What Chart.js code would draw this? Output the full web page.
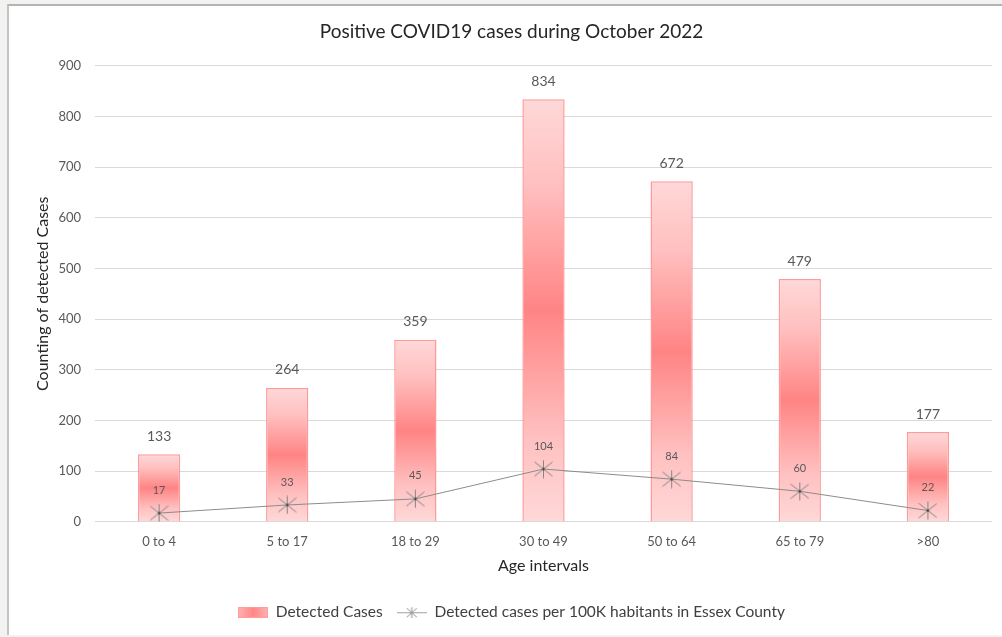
<!DOCTYPE html>
<html>
<head>
<meta charset="utf-8">
<script src="https://cdn.jsdelivr.net/npm/chart.js@4"></script>
<style>
  html, body { margin: 0; padding: 0; background: #f2f2f0; width: 1002px; height: 637px; overflow: hidden; }
  #card { position: absolute; left: 7px; top: 4px; right: 0; bottom: 2px; background: #ffffff;
          border-top: 2px solid #b4b4b4; border-left: 2px solid #c4c4c4; }
  #c { position: absolute; left: 0; top: 0; }
</style>
</head>
<body>
<div id="card"></div>
<canvas id="c" width="1002" height="637"></canvas>
<script>
const categories = ["0 to 4", "5 to 17", "18 to 29", "30 to 49", "50 to 64", "65 to 79", ">80"];
const detectedCases = [133, 264, 359, 834, 672, 479, 177];
const casesPer100K = [17, 33, 45, 104, 84, 60, 22];
const yTicks = [0, 100, 200, 300, 400, 500, 600, 700, 800, 900];
const titleText = "Positive COVID19 cases during October 2022";
const yTitle = "Counting of detected Cases";
const xTitle = "Age intervals";
const seriesNames = ["Detected Cases", "Detected cases per 100K habitants in Essex County"];

const FONT = "Lato";
const TXT = "#595959";

function makeStar(w, h) {
  const c = document.createElement('canvas');
  c.width = w; c.height = h;
  const g = c.getContext('2d');
  const cx = w / 2, cy = h / 2;
  g.strokeStyle = '#858585';
  g.lineWidth = 1;
  g.beginPath();
  g.moveTo(cx, cy - h / 2 + 0.5); g.lineTo(cx, cy + h / 2 - 0.5);
  g.moveTo(cx - w / 2 + 0.5, cy - h / 2 * 0.75); g.lineTo(cx + w / 2 - 0.5, cy + h / 2 * 0.75);
  g.moveTo(cx - w / 2 + 0.5, cy + h / 2 * 0.75); g.lineTo(cx + w / 2 - 0.5, cy - h / 2 * 0.75);
  g.stroke();
  g.fillStyle = '#333';
  g.fillRect(cx - 1, cy - 1, 2, 2);
  return c;
}
const starImg = makeStar(19, 19);

function makeLegendLine() {
  const c = document.createElement('canvas');
  c.width = 30; c.height = 12;
  const g = c.getContext('2d');
  g.strokeStyle = '#a0a0a0'; g.lineWidth = 1;
  g.beginPath(); g.moveTo(0, 6.5); g.lineTo(30, 6.5); g.stroke();
  g.strokeStyle = '#909090';
  g.beginPath();
  g.moveTo(15, 1); g.lineTo(15, 12);
  g.moveTo(10, 2); g.lineTo(20, 11);
  g.moveTo(10, 11); g.lineTo(20, 2);
  g.stroke();
  return c;
}
function makeLegendBox() {
  const c = document.createElement('canvas');
  c.width = 30; c.height = 11;
  const g = c.getContext('2d');
  const gr = g.createLinearGradient(0, 0, 30, 0);
  gr.addColorStop(0, '#ffb3b3'); gr.addColorStop(0.5, '#ff8787'); gr.addColorStop(1, '#ffb3b3');
  g.fillStyle = gr; g.fillRect(0, 0, 30, 11);
  g.strokeStyle = '#ff9c9c'; g.lineWidth = 1; g.strokeRect(0.5, 0.5, 29, 10);
  return c;
}

function barGradient(context) {
  const chart = context.chart;
  const ys = chart.scales.y;
  if (!ys || context.dataIndex == null) return '#ff9999';
  const v = detectedCases[context.dataIndex];
  const top = ys.getPixelForValue(v);
  const bot = ys.getPixelForValue(0);
  if (!isFinite(top) || !isFinite(bot) || top === bot) return '#ff9999';
  const gr = chart.ctx.createLinearGradient(0, top, 0, bot);
  gr.addColorStop(0, '#ffd8d8');
  gr.addColorStop(0.2, '#ffc0c0');
  gr.addColorStop(0.5, '#ff8484');
  gr.addColorStop(0.8, '#ffc0c0');
  gr.addColorStop(1, '#ffd8d8');
  return gr;
}

const labelPlugin = {
  id: 'valueLabels',
  afterDatasetsDraw(chart) {
    const ctx = chart.ctx;
    ctx.save();
    ctx.fillStyle = TXT;
    ctx.textAlign = 'center';
    ctx.textBaseline = 'middle';
    ctx.font = `14px ${FONT}`;
    chart.getDatasetMeta(1).data.forEach((el, i) => {
      ctx.fillText(String(detectedCases[i]), el.x, el.y - 18);
    });
    ctx.font = `11px ${FONT}`;
    chart.getDatasetMeta(0).data.forEach((el, i) => {
      ctx.fillText(String(casesPer100K[i]), el.x, el.y - 23);
    });
    ctx.restore();
  }
};

new Chart(document.getElementById('c'), {
  data: {
    labels: categories,
    datasets: [
      {
        type: 'line',
        label: seriesNames[1],
        data: casesPer100K,
        borderColor: '#8c8c8c',
        borderWidth: 1,
        pointStyle: starImg,
        pointRadius: 9,
        tension: 0,
        order: 0
      },
      {
        type: 'bar',
        label: seriesNames[0],
        data: detectedCases,
        backgroundColor: barGradient,
        borderColor: '#ff9a9a',
        borderWidth: 1.5,
        categoryPercentage: 1,
        barPercentage: 0.33,
        order: 1
      }
    ]
  },
  plugins: [labelPlugin],
  options: {
    responsive: false,
    animation: false,
    layout: { padding: { left: 25, right: 4, top: 0, bottom: 7 } },
    plugins: {
      tooltip: { enabled: false },
      title: {
        display: true,
        text: titleText,
        color: '#262626',
        font: { family: FONT, size: 19, weight: 'normal' },
        padding: { top: 20, bottom: 23 }
      },
      legend: {
        position: 'bottom',
        labels: {
          color: TXT,
          font: { family: FONT, size: 15.5 },
          usePointStyle: true,
          pointStyleWidth: 30,
          padding: 14,
          generateLabels(chart) {
            return [
              { text: seriesNames[0], pointStyle: makeLegendBox(), datasetIndex: 1, fontColor: '#404040', lineWidth: 0, strokeStyle: 'transparent', fillStyle: 'transparent' },
              { text: seriesNames[1], pointStyle: makeLegendLine(), datasetIndex: 0, fontColor: '#404040', lineWidth: 0, strokeStyle: 'transparent', fillStyle: 'transparent' }
            ];
          }
        }
      }
    },
    scales: {
      x: {
        grid: { display: false },
        border: { display: false },
        ticks: { color: TXT, font: { family: FONT, size: 13 }, padding: 4 },
        title: { display: true, text: xTitle, color: '#262626', font: { family: FONT, size: 16 }, padding: { top: 3, bottom: 15 } }
      },
      y: {
        min: 0,
        max: 900,
        afterBuildTicks(scale) { scale.ticks = yTicks.map(v => ({ value: v })); },
        afterFit(scale) { scale.width = 70; },
        grid: { color: '#d9d9d9', drawTicks: false, lineWidth: 1 },
        border: { display: false },
        ticks: { color: TXT, font: { family: FONT, size: 13 }, padding: 14 },
        title: { display: true, text: yTitle, color: '#262626', font: { family: FONT, size: 16 }, padding: { top: 8, bottom: 0 } }
      }
    }
  }
});
</script>
</body>
</html>
